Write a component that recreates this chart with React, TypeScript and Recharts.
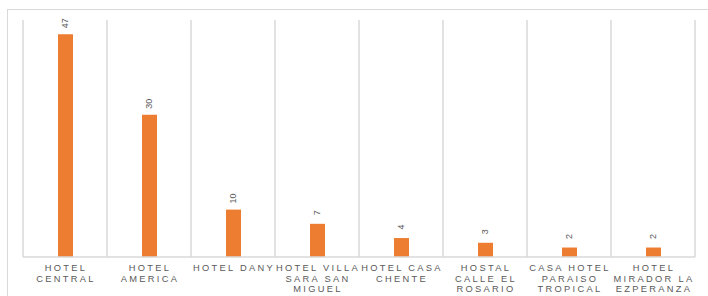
import { BarChart, Bar, XAxis, YAxis, CartesianGrid, LabelList } from "recharts";

const hotels = [
  "HOTEL\nCENTRAL",
  "HOTEL\nAMERICA",
  "HOTEL DANY",
  "HOTEL VILLA\nSARA SAN\nMIGUEL",
  "HOTEL CASA\nCHENTE",
  "HOSTAL\nCALLE EL\nROSARIO",
  "CASA HOTEL\nPARAISO\nTROPICAL",
  "HOTEL\nMIRADOR LA\nEZPERANZA",
];
const guests = [47, 30, 10, 7, 4, 3, 2, 2];

const data = hotels.map((h, i) => ({ hotel: h, value: guests[i] }));

const TEXT = "#595959";
const GRID = "#d9d9d9";
const FONT = "'Liberation Sans', Arial, sans-serif";

function HotelTick(props: any) {
  const { x, y, payload } = props;
  const lines = String(payload.value).split("\n");
  return (
    <text x={x} y={y + 6} textAnchor="middle" fill={TEXT} fontSize={9.3} fontFamily={FONT} letterSpacing={2.3}>
      {lines.map((l, i) => (
        <tspan key={i} x={x + 1} dy={i === 0 ? 0 : 10.5}>
          {l}
        </tspan>
      ))}
    </text>
  );
}

function ValueLabel(props: any) {
  const { x, y, width, value } = props;
  const cx = x + width / 2;
  const cy = y - 11;
  return (
    <text
      x={cx}
      y={cy}
      transform={`rotate(-90 ${cx} ${cy})`}
      textAnchor="middle"
      dominantBaseline="central"
      fill={TEXT}
      fontSize={9}
      fontFamily={FONT}
    >
      {value}
    </text>
  );
}

export default function App() {
  return (
    <div style={{ position: "fixed", left: 0, top: 0, width: 708, height: 296, background: "#fff", overflow: "hidden" }}>
      <div
        style={{
          position: "absolute",
          left: 7,
          top: 9,
          width: 740,
          height: 320,
          border: `1px solid ${GRID}`,
        }}
      />
      <div style={{ position: "absolute", left: 0, top: 0 }}>
        <BarChart width={708} height={296} data={data} margin={{ top: 20, right: 13, left: 23, bottom: 0 }}>
          <CartesianGrid
            vertical
            horizontal={false}
            stroke={GRID}
            strokeWidth={1.5}
            verticalCoordinatesGenerator={({ offset }: any) =>
              hotels.concat([""]).map((_, i) => offset.left + (i * offset.width) / hotels.length)
            }
          />
          <XAxis
            dataKey="hotel"
            interval={0}
            tickLine={false}
            axisLine={{ stroke: GRID, strokeWidth: 1.5 }}
            tick={<HotelTick />}
            height={39}
          />
          <YAxis hide domain={[0, 50]} />
          <Bar dataKey="value" fill="#ED7D31" barSize={15} isAnimationActive={false}>
            <LabelList dataKey="value" content={<ValueLabel />} />
          </Bar>
        </BarChart>
      </div>
    </div>
  );
}
